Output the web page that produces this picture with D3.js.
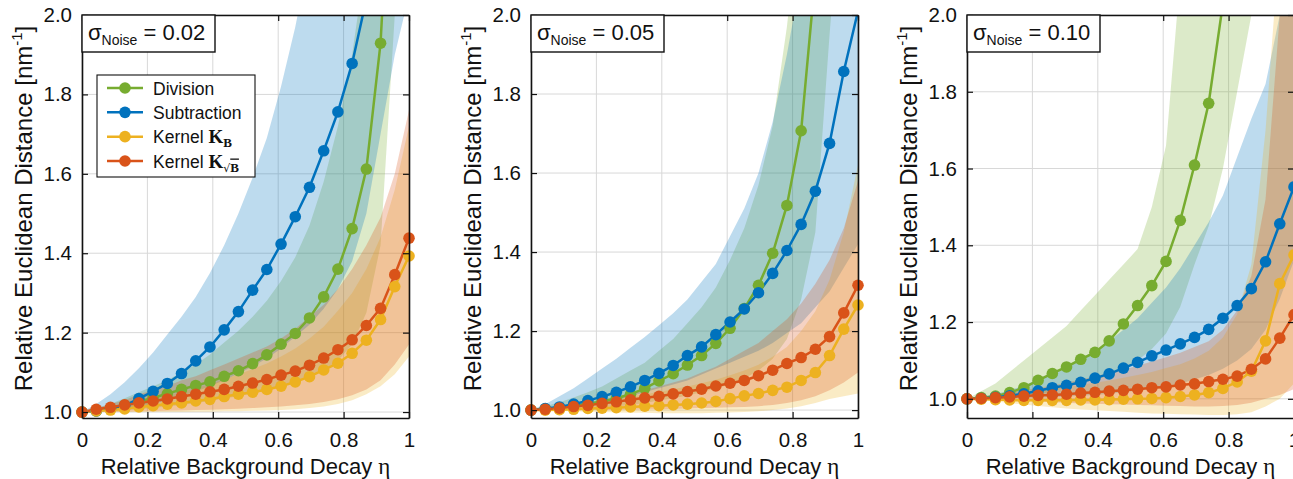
<!DOCTYPE html>
<html><head><meta charset="utf-8">
<script src="https://cdn.jsdelivr.net/npm/d3@7"></script>
<style>
body{margin:0;background:#fff}
text{font-family:"Liberation Sans",Arial,Helvetica,sans-serif;fill:#111}
</style>
</head><body>
<svg id="c" width="1293" height="479"></svg>
<script>
// ---------------- data ----------------
const eta = [0, 0.0435, 0.087, 0.1304, 0.1739, 0.2174, 0.2609, 0.3043, 0.3478, 0.3913, 0.4348, 0.4783,
             0.5217, 0.5652, 0.6087, 0.6522, 0.6957, 0.7391, 0.7826, 0.8261, 0.8696, 0.913, 0.9565, 1.0];
const xTicks = [0, 0.2, 0.4, 0.6, 0.8, 1];
const xTickLabels = ["0", "0.2", "0.4", "0.6", "0.8", "1"];
const yTicks = [1.0, 1.2, 1.4, 1.6, 1.8, 2.0];
const yTickLabels = ["1.0", "1.2", "1.4", "1.6", "1.8", "2.0"];
const noiseLevels = ["0.02", "0.05", "0.10"];
const yMins = [0.985, 0.98, 0.95];
const seriesNames = ["Division", "Subtraction", "Kernel KB", "Kernel K√B"];
const seriesColors = ["#77AC30", "#0072BD", "#EDB120", "#D95319"];

// sigma = 0.02
const div02   = [1.0,1.003,1.009,1.017,1.026,1.036,1.046,1.057,1.067,1.076,1.090,1.104,1.122,1.144,1.171,1.198,1.237,1.290,1.360,1.462,1.612,1.929,2.6,3.5];
const div02Lo = [1.0,1.0,1.002,1.004,1.007,1.01,1.014,1.018,1.023,1.028,1.034,1.04,1.047,1.055,1.064,1.075,1.088,1.105,1.13,1.17,1.25,1.42,2.0,2.6];
const div02Hi = [1.0,1.01,1.02,1.035,1.05,1.065,1.08,1.10,1.12,1.145,1.175,1.205,1.24,1.28,1.33,1.39,1.47,1.58,1.72,1.90,2.15,2.5,3.0,3.6];
const sub02   = [1.0,1.003,1.008,1.016,1.034,1.052,1.072,1.097,1.129,1.164,1.207,1.253,1.307,1.359,1.423,1.492,1.566,1.658,1.756,1.878,2.04,2.25,2.5,2.8];
const sub02Lo = [1.0,1.001,1.004,1.008,1.013,1.02,1.03,1.04,1.052,1.065,1.08,1.097,1.115,1.135,1.16,1.19,1.22,1.26,1.31,1.38,1.5,1.70,1.9,2.05];
const sub02Hi = [1.0,1.02,1.045,1.075,1.11,1.15,1.195,1.24,1.29,1.35,1.42,1.50,1.59,1.69,1.82,1.97,2.15,2.4,2.7,3.0,3.4,3.8,4.2,4.6];
const kb02    = [1.0,1.003,1.005,1.008,1.013,1.016,1.020,1.023,1.028,1.032,1.039,1.045,1.050,1.057,1.065,1.076,1.089,1.106,1.123,1.148,1.181,1.233,1.316,1.393];
const kb02Lo  = [1.0,1.0,1.0,1.0,1.0,1.0,1.0,1.0,1.001,1.001,1.002,1.002,1.003,1.004,1.005,1.007,1.01,1.014,1.02,1.03,1.045,1.065,1.095,1.14];
const kb02Hi  = [1.0,1.006,1.012,1.018,1.026,1.034,1.042,1.05,1.06,1.07,1.082,1.095,1.108,1.122,1.14,1.16,1.185,1.215,1.255,1.30,1.36,1.44,1.56,1.72];
const ksb02   = [1.0,1.007,1.012,1.018,1.023,1.028,1.033,1.039,1.045,1.051,1.057,1.065,1.073,1.082,1.093,1.103,1.118,1.136,1.157,1.182,1.218,1.261,1.346,1.438];
const ksb02Lo = [1.0,1.0,1.001,1.001,1.002,1.002,1.003,1.004,1.005,1.006,1.007,1.008,1.01,1.012,1.014,1.017,1.02,1.025,1.032,1.042,1.057,1.08,1.12,1.17];
const ksb02Hi = [1.0,1.01,1.02,1.03,1.045,1.055,1.065,1.08,1.09,1.105,1.12,1.135,1.15,1.165,1.185,1.21,1.24,1.27,1.31,1.36,1.42,1.49,1.60,1.76];

// sigma = 0.05
const div05   = [1.0,1.003,1.006,1.011,1.016,1.022,1.030,1.040,1.055,1.074,1.092,1.114,1.138,1.169,1.207,1.257,1.316,1.397,1.518,1.707,2.1,2.6,3.2,4.0];
const div05Lo = [1.0,1.0,1.001,1.002,1.004,1.006,1.009,1.013,1.018,1.024,1.03,1.037,1.045,1.055,1.065,1.08,1.10,1.13,1.18,1.28,1.45,1.95,2.4,2.8];
const div05Hi = [1.0,1.01,1.02,1.032,1.045,1.06,1.08,1.10,1.12,1.15,1.18,1.22,1.26,1.31,1.38,1.46,1.57,1.72,1.97,2.3,2.7,3.2,3.8,4.5];
const sub05   = [1.0,1.004,1.008,1.015,1.024,1.034,1.045,1.059,1.075,1.093,1.113,1.138,1.160,1.191,1.223,1.256,1.297,1.346,1.404,1.470,1.554,1.675,1.857,2.01];
const sub05Lo = [1.0,1.001,1.004,1.008,1.012,1.018,1.025,1.035,1.045,1.055,1.065,1.075,1.09,1.105,1.12,1.135,1.15,1.17,1.195,1.22,1.26,1.30,1.36,1.42];
const sub05Hi = [1.0,1.015,1.035,1.055,1.08,1.105,1.13,1.158,1.185,1.215,1.245,1.28,1.325,1.37,1.44,1.51,1.60,1.73,1.9,2.1,2.4,2.7,3.0,3.3];
const kb05    = [1.0,1.0,1.001,1.002,1.004,1.005,1.006,1.008,1.010,1.011,1.013,1.015,1.018,1.022,1.029,1.036,1.042,1.050,1.058,1.075,1.095,1.138,1.205,1.266];
const kb05Lo  = [1.0,0.999,0.998,0.997,0.996,0.995,0.994,0.993,0.993,0.992,0.992,0.992,0.992,0.993,0.994,0.995,0.997,1.0,1.004,1.01,1.018,1.028,1.035,1.042];
const kb05Hi  = [1.0,1.004,1.008,1.013,1.018,1.023,1.028,1.034,1.04,1.046,1.053,1.06,1.068,1.077,1.088,1.10,1.115,1.135,1.16,1.2,1.25,1.33,1.45,1.62];
const ksb05   = [1.0,1.002,1.005,1.009,1.012,1.017,1.021,1.026,1.031,1.035,1.041,1.047,1.053,1.061,1.068,1.075,1.087,1.101,1.118,1.133,1.154,1.186,1.246,1.316];
const ksb05Lo = [1.0,1.0,1.0,1.0,1.0,1.0,1.001,1.001,1.002,1.002,1.003,1.004,1.005,1.006,1.007,1.008,1.01,1.013,1.018,1.025,1.035,1.05,1.07,1.095];
const ksb05Hi = [1.0,1.004,1.008,1.014,1.02,1.026,1.033,1.04,1.05,1.06,1.07,1.08,1.095,1.11,1.13,1.15,1.17,1.2,1.23,1.27,1.32,1.38,1.46,1.58];

// sigma = 0.10
const div10   = [1.0,1.003,1.007,1.016,1.029,1.048,1.066,1.083,1.103,1.121,1.151,1.195,1.243,1.295,1.358,1.465,1.609,1.770,2.03,2.4,2.8,3.3,3.8,4.3];
const div10Lo = [1.0,1.0,1.0,1.002,1.005,1.01,1.02,1.03,1.04,1.05,1.06,1.08,1.10,1.13,1.17,1.24,1.35,1.45,1.6,1.8,2.0,2.3,2.6,3.0];
const div10Hi = [1.0,1.02,1.04,1.07,1.10,1.13,1.16,1.19,1.23,1.27,1.31,1.35,1.39,1.50,1.66,2.1,2.5,3.0,3.5,4.0,4.5,5.0,5.5,6.0];
const sub10   = [1.0,1.001,1.004,1.008,1.013,1.021,1.029,1.035,1.043,1.054,1.065,1.080,1.095,1.112,1.127,1.143,1.160,1.181,1.210,1.243,1.287,1.357,1.456,1.552];
const sub10Lo = [1.0,1.0,1.0,1.001,1.002,1.003,1.004,1.006,1.008,1.01,1.013,1.017,1.021,1.026,1.032,1.04,1.05,1.062,1.078,1.1,1.13,1.18,1.26,1.36];
const sub10Hi = [1.0,1.005,1.012,1.022,1.035,1.05,1.065,1.085,1.105,1.125,1.15,1.18,1.21,1.25,1.29,1.34,1.40,1.46,1.53,1.63,1.73,1.82,2.0,2.3];
const kb10    = [1.0,0.999,0.998,0.997,0.996,0.996,0.996,0.996,0.997,0.997,0.998,0.999,1.0,1.001,1.003,1.006,1.010,1.016,1.027,1.044,1.072,1.151,1.300,1.375];
const kb10Lo  = [1.0,0.997,0.993,0.989,0.985,0.981,0.978,0.975,0.972,0.97,0.968,0.966,0.964,0.962,0.961,0.96,0.959,0.958,0.958,0.96,0.965,0.98,1.0,1.04];
const kb10Hi  = [1.0,1.003,1.007,1.011,1.015,1.02,1.025,1.03,1.036,1.042,1.048,1.055,1.062,1.07,1.08,1.09,1.105,1.125,1.16,1.22,1.35,1.7,2.2,2.6];
const ksb10   = [1.0,1.001,1.003,1.005,1.007,1.009,1.010,1.012,1.015,1.017,1.020,1.022,1.025,1.029,1.031,1.036,1.039,1.045,1.051,1.059,1.077,1.104,1.158,1.219];
const ksb10Lo = [1.0,0.999,0.998,0.996,0.994,0.993,0.991,0.99,0.988,0.987,0.986,0.985,0.984,0.983,0.982,0.981,0.98,0.98,0.981,0.984,0.99,1.0,1.01,1.025];
const ksb10Hi = [1.0,1.005,1.01,1.016,1.022,1.028,1.035,1.042,1.05,1.058,1.067,1.076,1.086,1.097,1.108,1.12,1.135,1.15,1.18,1.23,1.32,1.52,2.0,2.5];

const panelData = [
  [[div02,div02Lo,div02Hi],[sub02,sub02Lo,sub02Hi],[kb02,kb02Lo,kb02Hi],[ksb02,ksb02Lo,ksb02Hi]],
  [[div05,div05Lo,div05Hi],[sub05,sub05Lo,sub05Hi],[kb05,kb05Lo,kb05Hi],[ksb05,ksb05Lo,ksb05Hi]],
  [[div10,div10Lo,div10Hi],[sub10,sub10Lo,sub10Hi],[kb10,kb10Lo,kb10Hi],[ksb10,ksb10Lo,ksb10Hi]]
];

// ---------------- layout ----------------
const panelLefts = [82, 531, 967];
const plotW = 327, plotTop = 15, plotBottom = 418;
const markerR = 5.8, lineW = 2.5;
const svg = d3.select("#c");

panelData.forEach((series, p) => {
  const left = panelLefts[p], right = left + plotW;
  const x = d3.scaleLinear().domain([0, 1]).range([left, right]);
  const y = d3.scaleLinear().domain([yMins[p], 2]).range([plotBottom, plotTop]);
  const g = svg.append("g");
  const clipId = "clip" + p;
  svg.append("clipPath").attr("id", clipId).append("rect")
    .attr("x", left).attr("y", plotTop).attr("width", plotW).attr("height", plotBottom - plotTop);

  // grid
  g.append("g").selectAll("line").data(xTicks).join("line")
    .attr("x1", d => x(d)).attr("x2", d => x(d)).attr("y1", plotTop).attr("y2", plotBottom)
    .attr("stroke", "#d8d8d8").attr("stroke-width", 1);
  g.append("g").selectAll("line").data(yTicks).join("line")
    .attr("y1", d => y(d)).attr("y2", d => y(d)).attr("x1", left).attr("x2", right)
    .attr("stroke", "#d8d8d8").attr("stroke-width", 1);

  const clipped = g.append("g").attr("clip-path", `url(#${clipId})`);
  // bands
  series.forEach((s, k) => {
    const area = d3.area().x((d, i) => x(eta[i])).y0((d, i) => y(s[1][i])).y1((d, i) => y(s[2][i]));
    clipped.append("path").attr("d", area(s[0])).attr("fill", seriesColors[k]).attr("fill-opacity", 0.26);
  });
  // lines + markers
  series.forEach((s, k) => {
    const line = d3.line().x((d, i) => x(eta[i])).y(d => y(d));
    clipped.append("path").attr("d", line(s[0])).attr("fill", "none")
      .attr("stroke", seriesColors[k]).attr("stroke-width", lineW);
    g.append("g").selectAll("circle")
      .data(s[0].map((v, i) => [eta[i], v]).filter(d => d[1] <= 2.0))
      .join("circle").attr("cx", d => x(d[0])).attr("cy", d => y(d[1])).attr("r", markerR)
      .attr("fill", seriesColors[k]);
  });

  // axes
  const fs = "20.5px";
  const ax = g.append("g").attr("transform", `translate(0,${plotBottom})`)
    .call(d3.axisBottom(x).tickValues(xTicks).tickFormat((d, i) => xTickLabels[i])
      .tickSizeInner(-6).tickSizeOuter(0).tickPadding(14));
  const ay = g.append("g").attr("transform", `translate(${left},0)`)
    .call(d3.axisLeft(y).tickValues(yTicks).tickFormat((d, i) => yTickLabels[i])
      .tickSizeInner(-6).tickSizeOuter(0).tickPadding(10));
  const at = g.append("g").attr("transform", `translate(0,${plotTop})`)
    .call(d3.axisTop(x).tickValues(xTicks).tickFormat("").tickSizeInner(-6).tickSizeOuter(0));
  const ar = g.append("g").attr("transform", `translate(${right},0)`)
    .call(d3.axisRight(y).tickValues(yTicks).tickFormat("").tickSizeInner(-6).tickSizeOuter(0));
  [ax, ay, at, ar].forEach(a => {
    a.selectAll(".domain").attr("stroke", "#111").attr("stroke-width", 1.6);
    a.selectAll(".tick line").attr("stroke", "#111").attr("stroke-width", 1.2);
    a.selectAll("text").attr("font-size", fs).attr("font-family", "Liberation Sans, Arial, sans-serif").attr("fill", "#111");
  });

  // noise annotation
  const ann = g.append("g");
  ann.append("rect").attr("x", left).attr("y", plotTop).attr("width", 133).attr("height", 37)
    .attr("fill", "#fff").attr("stroke", "#111").attr("stroke-width", 1.4);
  const at2 = ann.append("text").attr("x", left + 6).attr("y", plotTop + 25).attr("font-size", "22px");
  at2.append("tspan").text("σ");
  at2.append("tspan").attr("font-size", "14px").attr("dy", 5).text("Noise");
  at2.append("tspan").attr("dy", -5).text(" = " + noiseLevels[p]);

  // axis labels
  const xl = g.append("text").attr("x", (left + right) / 2).attr("y", 474)
    .attr("text-anchor", "middle").attr("font-size", "22px");
  xl.append("tspan").text("Relative Background Decay ");
  xl.append("tspan").attr("font-family", "Liberation Serif, serif").attr("font-size", "23px").text("η");

  const yl = g.append("text").attr("transform", `translate(${left - 50},${(plotTop + plotBottom) / 2 - 8}) rotate(-90)`)
    .attr("text-anchor", "middle").attr("font-size", "24px");
  yl.append("tspan").text("Relative Euclidean Distance [nm");
  yl.append("tspan").attr("font-size", "15px").attr("dy", -10).text("-1");
  yl.append("tspan").attr("dy", 10).text("]");
});

// ---------------- legend (panel 1) ----------------
const lg = svg.append("g");
lg.append("rect").attr("x", 97).attr("y", 75).attr("width", 158).attr("height", 102)
  .attr("fill", "#fff").attr("stroke", "#111").attr("stroke-width", 1.1);
const legendY = d3.scalePoint().domain(seriesNames).range([88, 161]);
seriesNames.forEach((name, k) => {
  const yy = legendY(name);
  lg.append("line").attr("x1", 107).attr("x2", 143).attr("y1", yy).attr("y2", yy)
    .attr("stroke", seriesColors[k]).attr("stroke-width", lineW);
  lg.append("circle").attr("cx", 125).attr("cy", yy).attr("r", markerR).attr("fill", seriesColors[k]);
  const t = lg.append("text").attr("x", 153).attr("y", yy + 6.5).attr("font-size", "17.5px");
  if (k < 2) { t.text(name); }
  else {
    t.append("tspan").text("Kernel ");
    t.append("tspan").attr("font-family", "Liberation Serif, serif").attr("font-weight", "bold")
      .attr("font-size", "19px").text("K");
    if (k === 2) {
      t.append("tspan").attr("font-family", "Liberation Serif, serif").attr("font-weight", "bold")
        .attr("font-size", "13px").attr("dy", 4).text("B");
    } else {
      t.append("tspan").attr("font-family", "DejaVu Sans, sans-serif")
        .attr("font-size", "11px").attr("dy", 4).text("√");
      t.append("tspan").attr("font-family", "Liberation Serif, serif").attr("font-weight", "bold")
        .attr("font-size", "13px").style("text-decoration", "overline").text("B");
    }
  }
});
</script>
</body></html>
